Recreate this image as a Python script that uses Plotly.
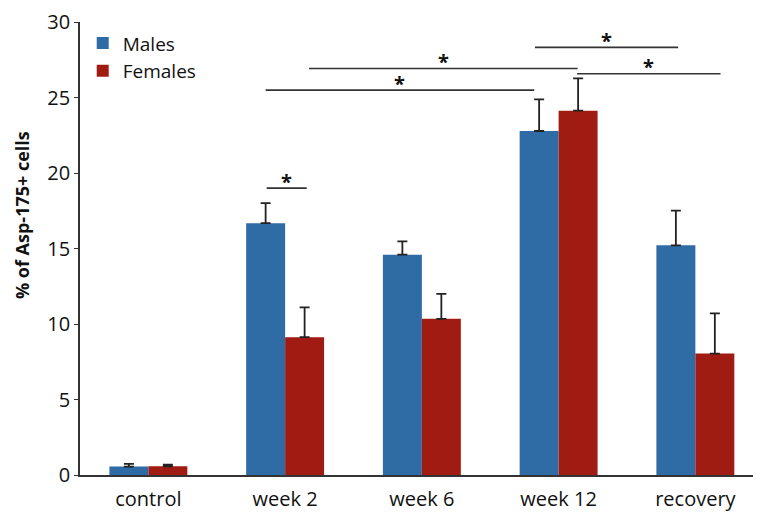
import plotly.graph_objects as go

categories = ["control", "week 2", "week 6", "week 12", "recovery"]
males = [0.56, 16.68, 14.59, 22.78, 15.21]
males_err = [0.18, 1.33, 0.88, 2.10, 2.30]
females = [0.58, 9.13, 10.34, 24.13, 8.04]
females_err = [0.10, 1.97, 1.65, 2.13, 2.67]
y_ticks = [0, 5, 10, 15, 20, 25, 30]

# significance brackets: (x start, x end, line level, star level) in axis units
brackets = [
    (0.865, 1.158, 19.0, 19.45),
    (0.858, 2.822, 25.49, 25.95),
    (1.175, 3.139, 26.92, 27.4),
    (2.827, 3.874, 28.32, 28.8),
    (3.135, 4.184, 26.57, 27.05),
]

BLUE = "#2F6BA5"
RED = "#A01C12"
FONT = "Open Sans"

fig = go.Figure()
fig.add_trace(go.Bar(
    x=categories, y=males, name="Males", marker_color=BLUE,
    marker_line_width=0,
    error_y=dict(type="data", array=males_err, symmetric=False, arrayminus=[0]*5,
                 color="#222222", thickness=1.8, width=5),
))
fig.add_trace(go.Bar(
    x=categories, y=females, name="Females", marker_color=RED,
    marker_line_width=0,
    error_y=dict(type="data", array=females_err, symmetric=False, arrayminus=[0]*5,
                 color="#222222", thickness=1.8, width=5),
))

shapes = []
annotations = []
for x0, x1, yl, ys in brackets:
    shapes.append(dict(type="line", xref="x", yref="y", x0=x0, x1=x1, y0=yl, y1=yl,
                       line=dict(color="#333333", width=1.6)))
    annotations.append(dict(xref="x", yref="y", x=(x0 + x1) / 2, y=ys, text="<b>*</b>",
                            showarrow=False, font=dict(family=FONT, size=20, color="#111111"),
                            yanchor="middle"))

annotations.append(dict(xref="paper", yref="paper", x=-0.085, y=0.574, text="<b>% of Asp-175+ cells</b>",
                        textangle=-90, showarrow=False, xanchor="center", yanchor="middle",
                        font=dict(family=FONT, size=18, color="#111111")))

fig.update_layout(
    width=753, height=509,
    margin=dict(l=72, r=0, t=11, b=42),
    plot_bgcolor="white", paper_bgcolor="white",
    barmode="group", bargap=0.43, bargroupgap=0,
    font=dict(family=FONT, size=20, color="#111111"),
    shapes=shapes, annotations=annotations,
    legend=dict(x=0.004, y=0.995, xanchor="left", yanchor="top",
                font=dict(family=FONT, size=19, color="#111111"),
                bgcolor="rgba(0,0,0,0)", itemwidth=30, tracegroupgap=0),
    xaxis=dict(range=[-0.5, 4.48], showline=True, linecolor="#333333", linewidth=1.6,
               ticks="", ticklabelstandoff=5, showgrid=False, zeroline=False),
    yaxis=dict(range=[0, 30], tickvals=y_ticks, showline=True, linecolor="#333333",
               linewidth=1.6, ticks="outside", ticklen=4, tickcolor="#333333", tickwidth=1.2,
               showgrid=False, zeroline=False, ticklabeloverflow="allow"),
)

fig.write_html("out.html")
